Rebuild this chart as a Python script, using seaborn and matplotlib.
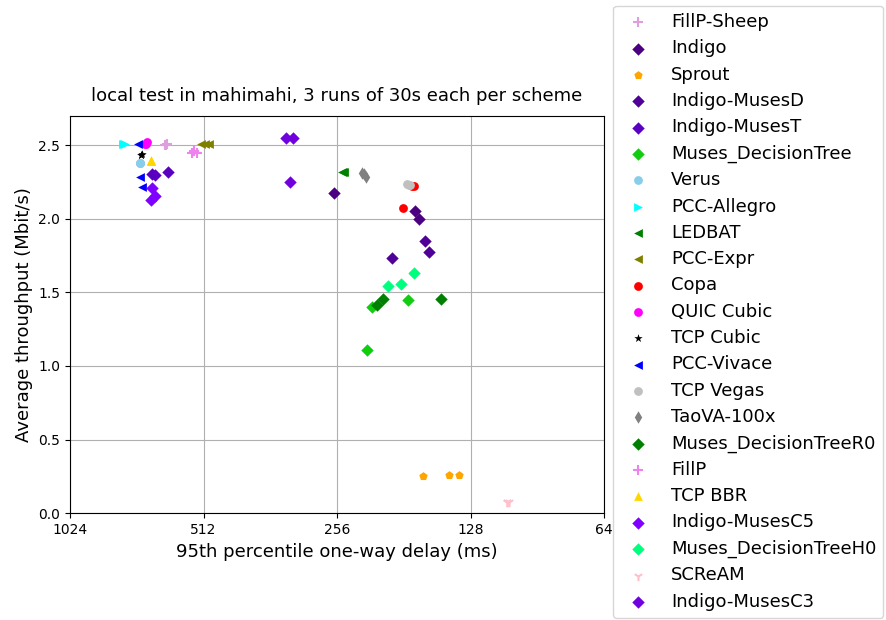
import pandas as pd
import seaborn as sns
import matplotlib
matplotlib.use('Agg')
import matplotlib.pyplot as plt
from matplotlib.ticker import FixedLocator, FixedFormatter, NullLocator

# schemes in legend order
schemes = ['FillP-Sheep', 'Indigo', 'Sprout', 'Indigo-MusesD', 'Indigo-MusesT',
           'Muses_DecisionTree', 'Verus', 'PCC-Allegro', 'LEDBAT', 'PCC-Expr',
           'Copa', 'QUIC Cubic', 'TCP Cubic', 'PCC-Vivace', 'TCP Vegas',
           'TaoVA-100x', 'Muses_DecisionTreeR0', 'FillP', 'TCP BBR',
           'Indigo-MusesC5', 'Muses_DecisionTreeH0', 'SCReAM', 'Indigo-MusesC3']

# 95th percentile one-way delay (ms), one value per run
delay_ms = [
    [622, 620, 624],
    [260, 171, 167],
    [164, 143, 136],
    [162, 159, 192],
    [669, 659, 616],
    [213, 177, 219],
    [712, 711, 713],
    [778, 770, 774],
    [248, 247, 249],
    [519, 508, 498],
    [172, 182, 173],
    [692, 686, 689],
    [708, 706, 709],
    [719, 712, 705],
    [178, 175, 176],
    [225, 220, 222],
    [202, 208, 149],
    [543, 530, 538],
    [672, 671, 673],
    [669, 659, 672],
    [172, 196, 184],
    [106, 106, 105],
    [334, 322, 327],
]

# average throughput (Mbit/s), one value per run
tput = [
    [2.50, 2.51, 2.50],
    [2.174, 2.052, 1.998],
    [0.253, 0.26, 0.26],
    [1.849, 1.774, 1.733],
    [2.303, 2.297, 2.317],
    [1.40, 1.448, 1.109],
    [2.378, 2.38, 2.375],
    [2.51, 2.51, 2.51],
    [2.317, 2.32, 2.315],
    [2.51, 2.51, 2.51],
    [2.222, 2.073, 2.225],
    [2.51, 2.52, 2.51],
    [2.432, 2.44, 2.43],
    [2.51, 2.283, 2.215],
    [2.236, 2.229, 2.232],
    [2.31, 2.283, 2.30],
    [1.455, 1.414, 1.455],
    [2.446, 2.446, 2.46],
    [2.392, 2.39, 2.395],
    [2.208, 2.154, 2.127],
    [1.631, 1.543, 1.557],
    [0.077, 0.078, 0.076],
    [2.548, 2.548, 2.249],
]

markers = ['+', 'D', 'p', 'D', 'D', 'D', 'o', '>', '<', '<', 'o', 'o', '*', '<',
           'o', 'd', 'D', '+', '^', 'D', 'D', '1', 'D']
colors = ['plum', 'indigo', 'orange', '#4f0096', '#5a00c0', '#11cc11', 'skyblue',
          'cyan', 'green', 'olive', 'red', 'magenta', 'black', 'blue', 'silver',
          'gray', 'green', 'violet', 'gold', '#8000ff', 'springgreen', 'pink',
          '#7000dd']

xticks = [1024, 512, 256, 128, 64]

rows = []
for name, xs, ys in zip(schemes, delay_ms, tput):
    for x, y in zip(xs, ys):
        rows.append({'scheme': name, 'delay': x, 'tput': y})
df = pd.DataFrame(rows)

fig = plt.figure(figsize=(8.86, 6.2), dpi=100)
ax = fig.add_axes([70 / 886, 106.7 / 620, 534 / 886, 397 / 620])

for name, mk, c in zip(schemes, markers, colors):
    sub = df[df['scheme'] == name]
    if mk in ('+', '1'):
        sns.scatterplot(data=sub, x='delay', y='tput', marker=mk, color=c,
                        s=45, linewidth=1.5, ax=ax, label=name)
    else:
        sns.scatterplot(data=sub, x='delay', y='tput', marker=mk, color=c,
                        edgecolor=c, s=40, linewidth=0, ax=ax, label=name)

ax.set_xscale('log', base=2)
ax.set_xlim(1024, 64)
ax.xaxis.set_major_locator(FixedLocator(xticks))
ax.xaxis.set_major_formatter(FixedFormatter([str(t) for t in xticks]))
ax.xaxis.set_minor_locator(NullLocator())
ax.set_ylim(0, 2.695)
ax.grid(True, color='#b0b0b0', linewidth=0.8)
ax.set_axisbelow(True)
ax.tick_params(labelsize=10)

ax.set_title('local test in mahimahi, 3 runs of 30s each per scheme', fontsize=13, pad=11)
ax.set_xlabel('95th percentile one-way delay (ms)', fontsize=13)
ax.set_ylabel('Average throughput (Mbit/s)', fontsize=13)

ax.legend(loc='center left', bbox_to_anchor=(613 / 886, 0.497),
          bbox_transform=fig.transFigure, scatterpoints=1, fontsize=13,
          borderaxespad=0, labelspacing=0.46)

plt.savefig('out.png', dpi=100)
